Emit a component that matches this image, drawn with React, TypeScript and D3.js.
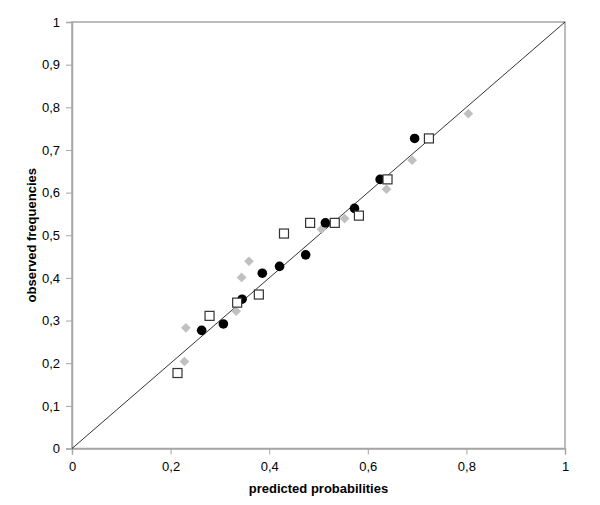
import { useEffect, useRef } from 'react'
import * as d3 from 'd3'

const WIDTH = 600
const HEIGHT = 505
const MARGIN = { top: 22, right: 35, bottom: 56.5, left: 72 }

// series: [predicted, observed]
const circlePred = [0.263, 0.307, 0.345, 0.386, 0.421, 0.474, 0.514, 0.573, 0.625, 0.695]
const circleObs = [0.277, 0.292, 0.350, 0.411, 0.427, 0.454, 0.529, 0.563, 0.631, 0.727]

const squarePred = [0.214, 0.279, 0.335, 0.379, 0.430, 0.483, 0.533, 0.582, 0.640, 0.724]
const squareObs = [0.177, 0.311, 0.342, 0.361, 0.504, 0.529, 0.529, 0.546, 0.631, 0.727]

const diamondPred = [0.228, 0.231, 0.333, 0.344, 0.359, 0.506, 0.553, 0.638, 0.690, 0.804]
const diamondObs = [0.204, 0.283, 0.322, 0.401, 0.439, 0.514, 0.539, 0.608, 0.676, 0.785]

const xTicks = [0, 0.2, 0.4, 0.6, 0.8, 1]
const yTicks = [0, 0.1, 0.2, 0.3, 0.4, 0.5, 0.6, 0.7, 0.8, 0.9, 1]

const AXIS_COLOR = '#a6a6a6'
const FONT = '"Liberation Sans", Arial, sans-serif'

const fmt = d3.formatLocale({ decimal: ',', thousands: '.', grouping: [3], currency: ['', ''] }).format('.1~f')

export default function App() {
  const svgRef = useRef<SVGSVGElement | null>(null)

  useEffect(() => {
    if (!svgRef.current) return
    const iW = WIDTH - MARGIN.left - MARGIN.right
    const iH = HEIGHT - MARGIN.top - MARGIN.bottom

    const svg = d3.select(svgRef.current)
    svg.selectAll('*').remove()
    svg.attr('width', WIDTH).attr('height', HEIGHT).attr('viewBox', `0 0 ${WIDTH} ${HEIGHT}`)

    svg.append('rect').attr('width', WIDTH).attr('height', HEIGHT).attr('fill', '#fff')

    const root = svg.append('g').attr('transform', `translate(${MARGIN.left},${MARGIN.top})`)

    const x = d3.scaleLinear().domain([0, 1]).range([0, iW])
    const y = d3.scaleLinear().domain([0, 1]).range([iH, 0])

    // plot frame
    root.append('rect')
      .attr('width', iW)
      .attr('height', iH)
      .attr('fill', 'none')
      .attr('stroke', AXIS_COLOR)
      .attr('stroke-width', 1.5)

    // Axes
    root.append('g')
      .attr('transform', `translate(0,${iH})`)
      .call(d3.axisBottom(x).tickValues(xTicks).tickSize(6).tickPadding(7).tickFormat((d) => fmt(+d)))
      .call((g) => g.select('.domain').attr('stroke', AXIS_COLOR).attr('stroke-width', 1.5))
      .call((g) => g.selectAll('.tick line').attr('stroke', AXIS_COLOR))
      .call((g) => g.selectAll('.tick text').attr('font-size', '13px').attr('font-family', FONT).attr('fill', '#000'))

    root.append('g')
      .call(d3.axisLeft(y).tickValues(yTicks).tickSize(6).tickPadding(6).tickFormat((d) => fmt(+d)))
      .call((g) => g.select('.domain').attr('stroke', AXIS_COLOR).attr('stroke-width', 1.5))
      .call((g) => g.selectAll('.tick line').attr('stroke', AXIS_COLOR))
      .call((g) => g.selectAll('.tick text').attr('font-size', '13px').attr('font-family', FONT).attr('fill', '#000'))

    // diagonal reference line
    root.append('line')
      .attr('x1', x(0)).attr('y1', y(0))
      .attr('x2', x(1)).attr('y2', y(1))
      .attr('stroke', '#000')
      .attr('stroke-width', 0.8)

    // Axis labels
    svg.append('text')
      .attr('x', MARGIN.left + iW / 2)
      .attr('y', 493)
      .attr('text-anchor', 'middle')
      .attr('font-size', '13px')
      .attr('font-weight', 'bold')
      .attr('font-family', FONT)
      .text('predicted probabilities')

    svg.append('text')
      .attr('transform', 'rotate(-90)')
      .attr('x', -(MARGIN.top + iH / 2))
      .attr('y', 36)
      .attr('text-anchor', 'middle')
      .attr('font-size', '13px')
      .attr('font-weight', 'bold')
      .attr('font-family', FONT)
      .text('observed frequencies')

    // Diamonds (grey)
    const diamond = d3.symbol().type(d3.symbolDiamond2).size(60)
    root.append('g').selectAll('path')
      .data(diamondPred.map((p, i) => [p, diamondObs[i]]))
      .join('path')
      .attr('d', diamond)
      .attr('transform', (d) => `translate(${x(d[0])},${y(d[1])})`)
      .attr('fill', '#c0c0c0')

    // Circles (black)
    root.append('g').selectAll('circle')
      .data(circlePred.map((p, i) => [p, circleObs[i]]))
      .join('circle')
      .attr('cx', (d) => x(d[0]))
      .attr('cy', (d) => y(d[1]))
      .attr('r', 4.8)
      .attr('fill', '#000')

    // Squares (open)
    root.append('g').selectAll('rect')
      .data(squarePred.map((p, i) => [p, squareObs[i]]))
      .join('rect')
      .attr('x', (d) => x(d[0]) - 4.5)
      .attr('y', (d) => y(d[1]) - 4.5)
      .attr('width', 9)
      .attr('height', 9)
      .attr('fill', '#fff')
      .attr('stroke', '#333')
      .attr('stroke-width', 1.2)
  }, [])

  return (
    <div style={{ position: 'absolute', left: 0, top: 0 }}>
      <svg ref={svgRef} />
    </div>
  )
}
